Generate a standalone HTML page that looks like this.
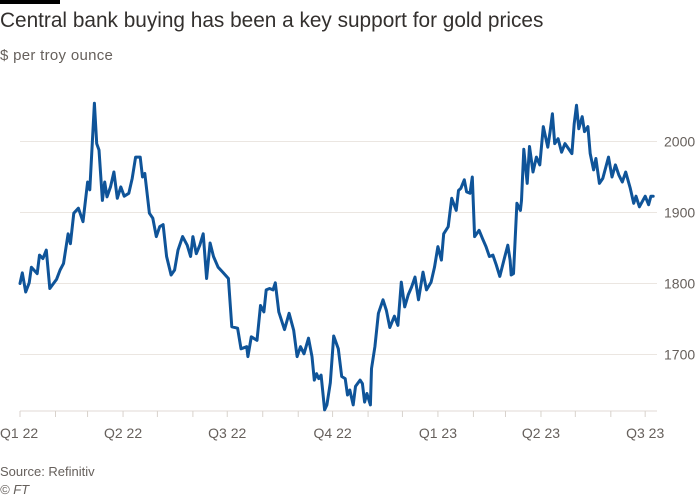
<!DOCTYPE html>
<html><head><meta charset="utf-8"><style>
body{margin:0;background:#fff;font-family:"Liberation Sans",sans-serif;}
#wrap{position:relative;width:700px;height:500px;overflow:hidden;background:#fff}
</style></head><body>
<div id="wrap">
<div style="position:absolute;left:0;top:0;width:60px;height:4px;background:#000"></div>
<div style="position:absolute;left:0;top:9px;font-size:20.8px;color:#33302e">Central bank buying has been a key support for gold prices</div>
<div style="position:absolute;left:0;top:47px;font-size:15px;color:#66605c;letter-spacing:0.3px">$ per troy ounce</div>
<svg id="chart" width="700" height="500" style="position:absolute;left:0;top:0"></svg>
<div style="position:absolute;left:0;top:464px;font-size:13px;color:#66605c">Source: Refinitiv</div>
<div style="position:absolute;left:0;top:482px;font-size:13px;color:#66605c;font-style:italic">© FT</div>
</div>
<script>
const days=[0,2,5,8,10,15,17,20,23,26,32,35,38,42,44,47,51,55,59,61,65,67,69,72,74,76,79,82,85,88,91,95,98,101,105,107,109,113,116,119,122,125,128,132,135,138,142,146,149,151,154,157,160,163,166,169,173,177,182,185,190,193,198,199,202,207,210,213,215,218,221,223,226,231,235,239,242,245,248,252,255,257,259,261,263,266,268,271,274,278,281,284,286,288,291,293,297,299,301,303,306,307,310,313,317,320,323,327,330,333,336,339,342,345,348,352,355,359,362,365,368,370,374,377,381,383,385,388,390,393,395,397,401,404,407,410,413,416,419,423,426,428,429,431,434,437,438,440,443,445,448,451,454,457,461,463,465,467,470,473,476,479,482,484,486,488,491,493,496,498,501,503,506,509,514,517,520,523,526,529,533,536,538,541,546,549,551,553];
const prices=[1800,1815,1788,1801,1823,1814,1840,1835,1847,1793,1806,1819,1828,1870,1856,1899,1906,1887,1943,1932,2054,1997,1988,1917,1943,1922,1936,1957,1920,1936,1923,1927,1948,1978,1978,1950,1955,1899,1892,1866,1880,1883,1838,1812,1819,1847,1866,1854,1838,1866,1842,1854,1870,1807,1857,1838,1823,1816,1807,1739,1737,1708,1711,1697,1725,1720,1769,1760,1791,1793,1791,1801,1760,1735,1758,1734,1697,1711,1701,1723,1697,1664,1673,1666,1671,1622,1629,1660,1726,1708,1669,1666,1643,1650,1629,1655,1664,1659,1633,1645,1629,1680,1711,1758,1777,1762,1738,1754,1741,1802,1767,1784,1795,1809,1777,1816,1791,1802,1823,1852,1833,1870,1880,1920,1903,1931,1934,1946,1929,1927,1950,1866,1875,1863,1852,1838,1840,1826,1810,1835,1854,1833,1812,1814,1913,1903,1917,1989,1941,1993,1957,1978,1967,2021,1992,2014,2039,1997,2004,1985,1997,1990,1983,2025,2051,2018,2035,2014,2021,1983,1960,1976,1941,1948,1978,1950,1967,1953,1943,1957,1934,1913,1923,1908,1923,1911,1923,1923];
const yTicks=[1700,1800,1900,2000];
const monthDays=[0,31,59,90,120,151,181,212,243,273,304,334,365,396,424,455,485,516,546];
const qLabels=["Q1 22","Q2 22","Q3 22","Q4 22","Q1 23","Q2 23","Q3 23"];
const qDays=[0,90,181,273,365,455,546];
const svg=document.getElementById('chart');const NS='http://www.w3.org/2000/svg';
const X0=20,XPD=1.145,Y2000=141.5,YPU=0.71,BASE=411;
const xs=d=>X0+d*XPD, ys=v=>Y2000-(v-2000)*YPU;
function mk(t,a){const e=document.createElementNS(NS,t);for(const k in a)e.setAttribute(k,a[k]);svg.appendChild(e);return e;}
yTicks.forEach(v=>{
 const l=mk('line',{x1:20,x2:657,y1:ys(v),y2:ys(v),stroke:'#ebe6e1','stroke-width':1});
 
 
 const t=mk('text',{x:664,y:ys(v)+5,'font-size':14,fill:'#66605c','font-family':'Liberation Sans, sans-serif'});t.textContent=v;
 
 
});
const ax=mk('line',{x1:20,x2:657,y1:BASE,y2:BASE,stroke:'#e0dad5','stroke-width':1});


monthDays.forEach(d=>{const l=mk('line',{x1:xs(d),x2:xs(d),y1:BASE,y2:BASE+6,stroke:'#d8d2cc','stroke-width':1});
 
 });
qLabels.forEach((q,i)=>{let x=xs(qDays[i]);const t=mk('text',{x:i==0?0:x,y:BASE+27,'font-size':14,fill:'#66605c','text-anchor':i==0?'start':'middle','font-family':'Liberation Sans, sans-serif'});t.textContent=q;
 
 });
const p=mk('path',{d:days.map((d,i)=>(i?'L':'M')+xs(d).toFixed(1)+','+ys(prices[i]).toFixed(1)).join(''),fill:'none',stroke:'#0f5499','stroke-width':3,'stroke-linejoin':'round','stroke-linecap':'round'});


</script>
</body></html>
